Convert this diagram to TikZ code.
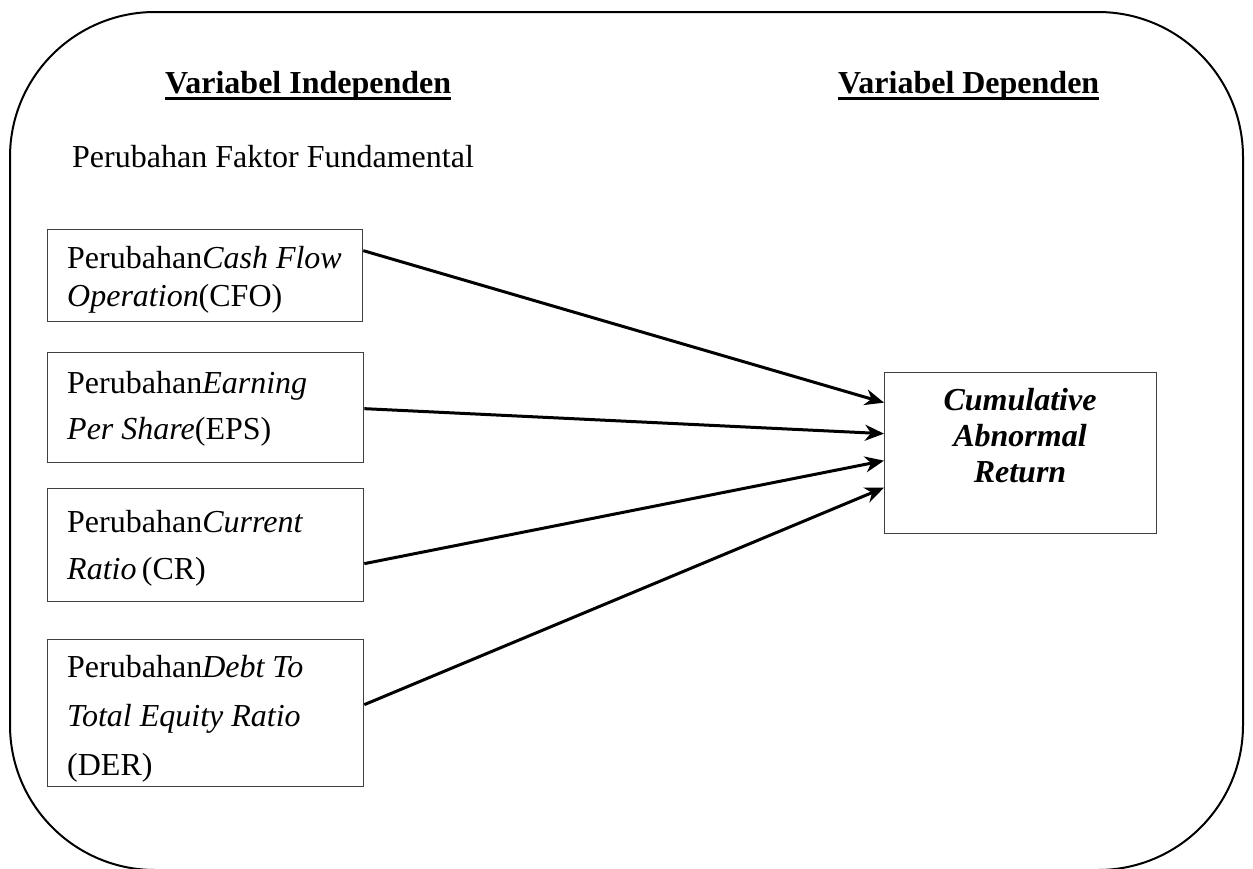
\documentclass[tikz,border=0pt]{standalone}
\usepackage{fontspec}
\setmainfont{Liberation Serif}
\usetikzlibrary{arrows.meta}
\begin{document}
\begin{tikzpicture}[x=1pt,y=-1pt,
  box/.style={draw=black!75, line width=1.3pt, inner sep=0pt, anchor=north west},
  txt/.style={inner sep=0pt, anchor=base west, font=\fontsize{32}{38}\selectfont},
  ctxt/.style={inner sep=0pt, anchor=base, font=\fontsize{32}{38}\selectfont\bfseries\itshape},
  head/.style={inner sep=0pt, anchor=base west, font=\fontsize{32}{38}\selectfont\bfseries},
  link/.style={line width=3pt, -{Stealth[length=19pt,width=16pt,inset=6pt]}}]
\useasboundingbox (0,0) rectangle (1253,868);
\draw[line width=2pt, rounded corners=145pt] (10,12) rectangle (1243,870);

% headings
\node[head] (vi) at (165,93) {Variabel Independen};
\draw[line width=3pt] ([yshift=-5pt]vi.base west) -- ([yshift=-5pt]vi.base east);
\node[head] (vd) at (838,93) {Variabel Dependen};
\draw[line width=3pt] ([yshift=-5pt]vd.base west) -- ([yshift=-5pt]vd.base east);
\node[txt] (pff) at (72,167) {Perubahan Faktor Fundamental};

% boxes
\node[box, minimum width=315pt, minimum height=92pt] (cfo) at (47,229) {};
\node[box, minimum width=316pt, minimum height=110pt] (eps) at (47,352) {};
\node[box, minimum width=316pt, minimum height=113pt] (cr) at (47,488) {};
\node[box, minimum width=316pt, minimum height=147pt] (der) at (47,639) {};
\node[box, minimum width=272pt, minimum height=161pt] (car) at (884,372) {};

% box texts
\node[txt] (cfo1) at (67,268) {Perubahan\textit{Cash Flow}};
\node[txt] (cfo2) at (67,306) {\textit{Operation}(CFO)};
\node[txt] (eps1) at (67,393) {Perubahan\textit{Earning}};
\node[txt] (eps2) at (67,439) {\textit{Per Share}(EPS)};
\node[txt] (cr1) at (67,532) {Perubahan\textit{Current}};
\node[txt] (cr2) at (67,579) {\textit{Ratio}\,(CR)};
\node[txt] (der1) at (67,677) {Perubahan\textit{Debt To}};
\node[txt] (der2) at (67,726) {\textit{Total Equity Ratio}};
\node[txt] (der3) at (67,775) {(DER)};

\node[ctxt] (car1) at (1020,410) {Cumulative};
\node[ctxt] (car2) at (1020,446) {Abnormal};
\node[ctxt] (car3) at (1020,482) {Return};

% connectors
\draw[link] ([yshift=25pt]cfo.east) -- ([yshift=50.5pt]car.west);
\draw[link] ([yshift=-1pt]eps.east) -- ([yshift=19.5pt]car.west);
\draw[link] ([yshift=-18.5pt]cr.east) -- ([yshift=-7.5pt]car.west);
\draw[link] ([yshift=8.5pt]der.east) -- ([yshift=-34.5pt]car.west);
\end{tikzpicture}
\end{document}
